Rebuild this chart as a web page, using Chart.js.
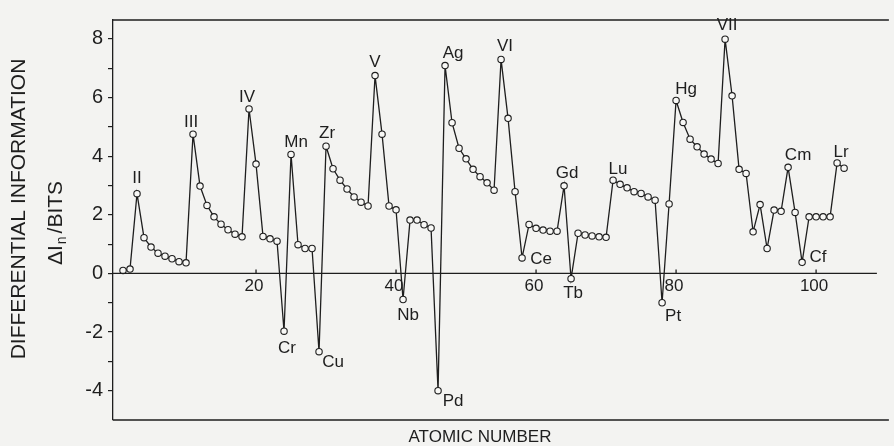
<!DOCTYPE html>
<html>
<head>
<meta charset="utf-8">
<script src="https://cdn.jsdelivr.net/npm/chart.js@4.4.1/dist/chart.umd.min.js"></script>
<style>
  html, body { margin: 0; padding: 0; background: #f3f3f1; }
  #wrap { width: 894px; height: 446px; position: relative; }
</style>
</head>
<body>
<div id="wrap"><canvas id="c" width="894" height="446"></canvas></div>
<script>
// ---- DATA ----
const atomicNumbers = [1,2,3,4,5,6,7,8,9,10,11,12,13,14,15,16,17,18,19,20,
  21,22,23,24,25,26,27,28,29,30,31,32,33,34,35,36,37,38,39,40,
  41,42,43,44,45,46,47,48,49,50,51,52,53,54,55,56,57,58,59,60,
  61,62,63,64,65,66,67,68,69,70,71,72,73,74,75,76,77,78,79,80,
  81,82,83,84,85,86,87,88,89,90,91,92,93,94,95,96,97,98,99,100,
  101,102,103,104];
const diffInfo = [0.10,0.15,2.72,1.22,0.90,0.69,0.59,0.50,0.40,0.36,
  4.75,2.98,2.32,1.93,1.68,1.49,1.34,1.25,5.61,3.73,
  1.26,1.18,1.10,-1.97,4.06,0.98,0.85,0.85,-2.67,4.34,
  3.57,3.18,2.88,2.61,2.43,2.30,6.75,4.75,2.30,2.17,
  -0.89,1.82,1.82,1.66,1.55,-4.00,7.09,5.14,4.27,3.91,
  3.55,3.30,3.09,2.84,7.30,5.29,2.79,0.53,1.67,1.54,
  1.48,1.44,1.44,2.99,-0.18,1.37,1.31,1.28,1.25,1.23,
  3.18,3.04,2.92,2.79,2.73,2.61,2.50,-1.00,2.37,5.90,
  5.15,4.58,4.32,4.07,3.90,3.75,7.99,6.06,3.55,3.41,
  1.42,2.35,0.85,2.16,2.12,3.62,2.08,0.38,1.93,1.93,
  1.93,1.93,3.77,3.59];
const xTickValues = [20, 40, 60, 80, 100];
const yTickValues = [-4,-3,-2,-1,0,1,2,3,4,5,6,7,8];
const labelZ    = [3, 11, 19, 24, 25, 29, 30, 37, 41, 46, 47, 55, 58, 64, 65, 71, 78, 80, 87, 96, 98, 103];
const labelText = ['II','III','IV','Cr','Mn','Cu','Zr','V','Nb','Pd','Ag','VI','Ce','Gd','Tb','Lu','Pt','Hg','VII','Cm','Cf','Lr'];
const xTitle = 'ATOMIC NUMBER';
const yTitle1 = 'DIFFERENTIAL INFORMATION';

// ---- label placement (offsets from the point, px) ----
const labelOffsets = {
  'II':[0,-15],'III':[-2,-12],'IV':[-2,-12],'Cr':[3,17],'Mn':[5,-12],'Cu':[14,11],
  'Zr':[1,-13],'V':[0,-13],'Nb':[5,16],'Pd':[15,11],'Ag':[8,-12],'VI':[4,-13],
  'Ce':[19,1],'Gd':[3,-12],'Tb':[2,15],'Lu':[5,-11],'Pt':[11,14],'Hg':[10,-11],
  'VII':[2,-14],'Cm':[10,-12],'Cf':[16,-5],'Lr':[4,-11]
};

const INK = '#1e1e1e';
const FONT = "'Liberation Sans', Arial, sans-serif";

const points = atomicNumbers.map((z, i) => ({x: z, y: diffInfo[i]}));

const decor = {
  id: 'decor',
  afterDatasetsDraw(chart) {
    const ctx = chart.ctx;
    const a = chart.chartArea;
    const xs = chart.scales.x, ys = chart.scales.y;
    const y0 = ys.getPixelForValue(0);
    ctx.save();
    ctx.strokeStyle = INK;
    ctx.fillStyle = INK;
    ctx.lineWidth = 1.3;
    // frame top & bottom
    ctx.beginPath();
    ctx.moveTo(a.left, a.top); ctx.lineTo(a.right, a.top);
    ctx.moveTo(a.left, a.bottom); ctx.lineTo(a.right, a.bottom);
    ctx.stroke();
    // zero line
    ctx.beginPath();
    ctx.moveTo(a.left, y0); ctx.lineTo(a.right - 12, y0);
    ctx.stroke();
    // x ticks + labels
    ctx.font = '17px ' + FONT;
    ctx.textAlign = 'center';
    ctx.textBaseline = 'top';
    xTickValues.forEach(v => {
      const px = xs.getPixelForValue(v);
      ctx.beginPath(); ctx.moveTo(px, y0); ctx.lineTo(px, y0 - 4); ctx.stroke();
      ctx.fillText(String(v), px - 2, y0 + 4);
    });
    // element labels
    ctx.font = '17px ' + FONT;
    ctx.textBaseline = 'middle';
    const meta = chart.getDatasetMeta(0);
    labelZ.forEach((z, i) => {
      const idx = atomicNumbers.indexOf(z);
      const el = meta.data[idx];
      const off = labelOffsets[labelText[i]];
      ctx.fillText(labelText[i], el.x + off[0], el.y + off[1]);
    });
    // x title
    ctx.font = '17px ' + FONT;
    ctx.textBaseline = 'middle';
    ctx.fillText(xTitle, 480, 437);
    // y title line 1
    ctx.save();
    ctx.translate(19, 209);
    ctx.rotate(-Math.PI / 2);
    ctx.font = '21px ' + FONT;
    ctx.textAlign = 'center';
    ctx.textBaseline = 'middle';
    ctx.fillText(yTitle1, 0, 0);
    ctx.restore();
    // y title line 2: ΔIn / BITS
    ctx.save();
    ctx.translate(56, 222);
    ctx.rotate(-Math.PI / 2);
    ctx.textAlign = 'left';
    ctx.textBaseline = 'middle';
    const big = '21px ' + FONT, small = '14px ' + FONT;
    ctx.font = big; const w1 = ctx.measureText('\u0394I').width;
    ctx.font = small; const w2 = ctx.measureText('n').width;
    ctx.font = big; const w3 = ctx.measureText('/BITS').width;
    const gap = 3;
    const total = w1 + w2 + w3 + gap * 2;
    let cx = -total / 2;
    ctx.font = big; ctx.fillText('\u0394I', cx, 0); cx += w1 + 1;
    ctx.font = small; ctx.fillText('n', cx, 6); cx += w2 + gap;
    ctx.font = big; ctx.fillText('/BITS', cx, 0);
    ctx.restore();
    ctx.restore();
  }
};

new Chart(document.getElementById('c'), {
  type: 'line',
  data: {
    datasets: [{
      data: points,
      borderColor: INK,
      borderWidth: 1.3,
      pointRadius: 3.2,
      pointBackgroundColor: '#f8f8f6',
      pointBorderColor: INK,
      pointBorderWidth: 1.1,
      tension: 0,
      fill: false
    }]
  },
  options: {
    responsive: false,
    animation: false,
    devicePixelRatio: 1,
    layout: { padding: { top: 20, bottom: 26, left: 0, right: 0 } },
    plugins: { legend: { display: false }, tooltip: { enabled: false } },
    scales: {
      x: { type: 'linear', min: -0.43, max: 110.4, display: false },
      y: {
        type: 'linear', min: -5.0, max: 8.645,
        afterBuildTicks: (s) => { s.ticks = yTickValues.map(v => ({value: v})); },
        afterFit: (s) => { s.width = 113; },
        ticks: {
          color: INK,
          font: { family: FONT, size: 20 },
          padding: 5,
          callback: (v) => (v % 2 === 0 ? String(v) : '')
        },
        grid: { drawOnChartArea: false, drawTicks: true, tickLength: 5, color: INK, lineWidth: 1.2 },
        border: { display: true, color: INK, width: 1.3 }
      }
    }
  },
  plugins: [decor]
});
</script>
</body>
</html>
